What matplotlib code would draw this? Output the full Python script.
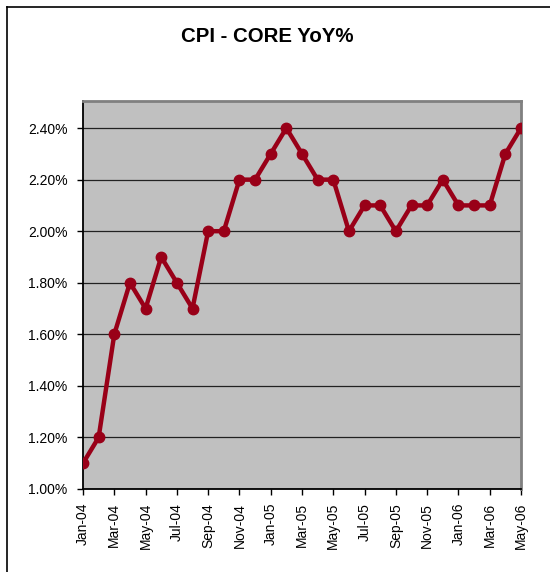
import matplotlib
matplotlib.use('Agg')
import matplotlib.pyplot as plt
from matplotlib.lines import Line2D
from matplotlib.ticker import FuncFormatter

plt.rcParams['font.family'] = ['Liberation Sans', 'DejaVu Sans']

# Данные
months = ['Jan-04', 'Feb-04', 'Mar-04', 'Apr-04', 'May-04', 'Jun-04', 'Jul-04', 'Aug-04',
          'Sep-04', 'Oct-04', 'Nov-04', 'Dec-04', 'Jan-05', 'Feb-05', 'Mar-05', 'Apr-05',
          'May-05', 'Jun-05', 'Jul-05', 'Aug-05', 'Sep-05', 'Oct-05', 'Nov-05', 'Dec-05',
          'Jan-06', 'Feb-06', 'Mar-06', 'Apr-06', 'May-06']
core_yoy = [1.1, 1.2, 1.6, 1.8, 1.7, 1.9, 1.8, 1.7,
            2.0, 2.0, 2.2, 2.2, 2.3, 2.4, 2.3, 2.2,
            2.2, 2.0, 2.1, 2.1, 2.0, 2.1, 2.1, 2.2,
            2.1, 2.1, 2.1, 2.3, 2.4]
y_ticks = [1.0, 1.2, 1.4, 1.6, 1.8, 2.0, 2.2, 2.4]

# Стиль
plotcolor = '#c0c0c0'
linecolor = '#990018'

fig = plt.figure(figsize=(5.5, 5.72), dpi=100)
fig.patch.set_facecolor('white')
ax = fig.add_axes([83 / 550, 1 - 489 / 572, (521 - 83) / 550, (489 - 101) / 572])
ax.set_facecolor(plotcolor)

x = list(range(len(months)))
ax.plot(x, core_yoy, '-o', color=linecolor, linewidth=3.2, markersize=7.5, zorder=3)

ax.set_xlim(0, len(months) - 1)
ax.set_ylim(1.0, 2.505)
ax.set_yticks(y_ticks)
ax.yaxis.set_major_formatter(FuncFormatter(lambda v, p: f'{v:.2f}%'))
ax.set_xticks(x[::2])
ax.set_xticklabels(months[::2], rotation=90)
ax.tick_params(axis='both', labelsize=10, direction='out', length=4, width=1, color='black')
ax.tick_params(axis='x', pad=6)
ax.tick_params(axis='y', pad=7)

ax.grid(axis='y', color='#222222', linewidth=0.9)
ax.set_axisbelow(True)

for side in ['left', 'bottom']:
    ax.spines[side].set_color('black')
    ax.spines[side].set_linewidth(1.3)
for side in ['top', 'right']:
    ax.spines[side].set_color('#808080')
    ax.spines[side].set_linewidth(2)

fig.text(267 / 550, 1 - 37 / 572, 'CPI - CORE YoY%', ha='center', va='center',
         fontsize=14.7, fontweight='bold')

# внешняя рамка (обрезана справа и снизу)
fig.add_artist(Line2D([6.5 / 550, 6.5 / 550], [0, 1 - 6.5 / 572], color='black', linewidth=1.2))
fig.add_artist(Line2D([6.5 / 550, 1], [1 - 6.5 / 572, 1 - 6.5 / 572], color='black', linewidth=1.2))

plt.savefig('out.png', dpi=100, facecolor=fig.get_facecolor())
plt.close()
